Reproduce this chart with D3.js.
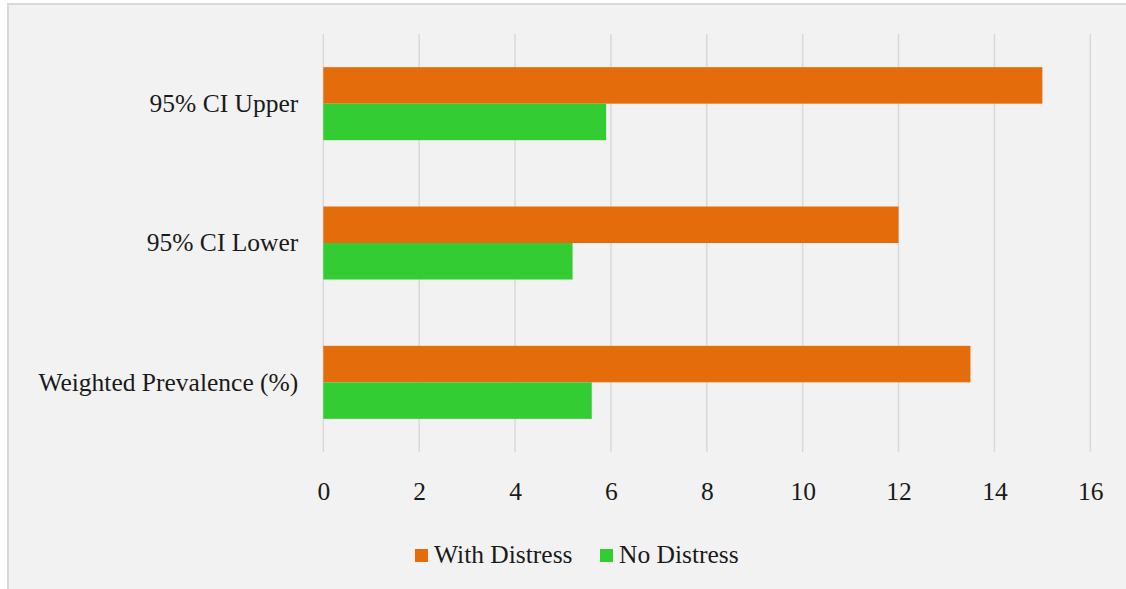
<!DOCTYPE html>
<html>
<head>
<meta charset="utf-8">
<script src="https://cdn.jsdelivr.net/npm/d3@7"></script>
<style>
html, body { margin: 0; padding: 0; background: #ffffff; }
svg { display: block; }
text { font-family: "Liberation Serif", "Times New Roman", serif; fill: #1a1a1a; }
</style>
</head>
<body>
<div id="chart"></div>
<script>
const categories = ["95% CI Upper", "95% CI Lower", "Weighted Prevalence (%)"];
const seriesNames = ["With Distress", "No Distress"];
const withDistress = [15.0, 12.0, 13.5];
const noDistress = [5.9, 5.2, 5.6];
const xTicks = [0, 2, 4, 6, 8, 10, 12, 14, 16];
const colors = ["#e46c0a", "#33cc33"];

const W = 1126, H = 589;
const FS = "25.5px";
const svg = d3.select("#chart").append("svg").attr("width", W).attr("height", H);

svg.append("rect")
  .attr("x", 8).attr("y", 4)
  .attr("width", W + 20).attr("height", H + 20)
  .attr("fill", "#f2f2f2")
  .attr("stroke", "#d9d9d9").attr("stroke-width", 2);

const plot = { left: 323.3, right: 1090.3, top: 34, bottom: 452 };

const x = d3.scaleLinear().domain([0, 16]).range([plot.left, plot.right]);
const y = d3.scaleBand().domain(categories).range([plot.top, plot.bottom])
  .paddingInner(0.476).paddingOuter(0.238);
const ySub = d3.scaleBand().domain(seriesNames).range([0, y.bandwidth()]);

// gridlines
svg.append("g").selectAll("line").data(xTicks).join("line")
  .attr("x1", d => x(d)).attr("x2", d => x(d))
  .attr("y1", plot.top).attr("y2", plot.bottom)
  .attr("stroke", "#d9d9d9").attr("stroke-width", 1.5);

// bars
const data = categories.map((c, i) => ({ cat: c, vals: [withDistress[i], noDistress[i]] }));
const groups = svg.append("g").selectAll("g").data(data).join("g")
  .attr("transform", d => `translate(0,${y(d.cat)})`);
groups.selectAll("rect").data(d => d.vals.map((v, j) => ({ v, s: seriesNames[j], j })))
  .join("rect")
  .attr("x", x(0))
  .attr("y", d => ySub(d.s))
  .attr("width", d => x(d.v) - x(0))
  .attr("height", ySub.bandwidth())
  .attr("fill", d => colors[d.j]);

// x axis labels
const xAxis = d3.axisBottom(x).tickValues(xTicks).tickSize(0).tickPadding(0);
const gx = svg.append("g").attr("transform", `translate(0,${plot.bottom})`).call(xAxis);
gx.select(".domain").remove();
gx.selectAll("text")
  .attr("dy", null).attr("y", 47.5)
  .style("font-size", FS)
  .style("font-family", "Liberation Serif, serif")
  .attr("fill", "#1a1a1a");

// y axis labels
const yAxis = d3.axisLeft(y).tickSize(0).tickPadding(0);
const gy = svg.append("g").attr("transform", `translate(${plot.left - 25},0)`).call(yAxis);
gy.select(".domain").remove();
gy.selectAll("text")
  .attr("dy", "0.33em")
  .style("font-size", FS)
  .style("font-family", "Liberation Serif, serif")
  .attr("fill", "#1a1a1a");

// legend
const legend = svg.append("g");
const legendPos = [415, 600];
seriesNames.forEach((s, i) => {
  const g = legend.append("g").attr("transform", `translate(${legendPos[i]},549)`);
  g.append("rect").attr("width", 13).attr("height", 13).attr("fill", colors[i]);
  g.append("text").attr("x", 19).attr("y", 13.5).style("font-size", FS).text(s);
});
</script>
</body>
</html>
